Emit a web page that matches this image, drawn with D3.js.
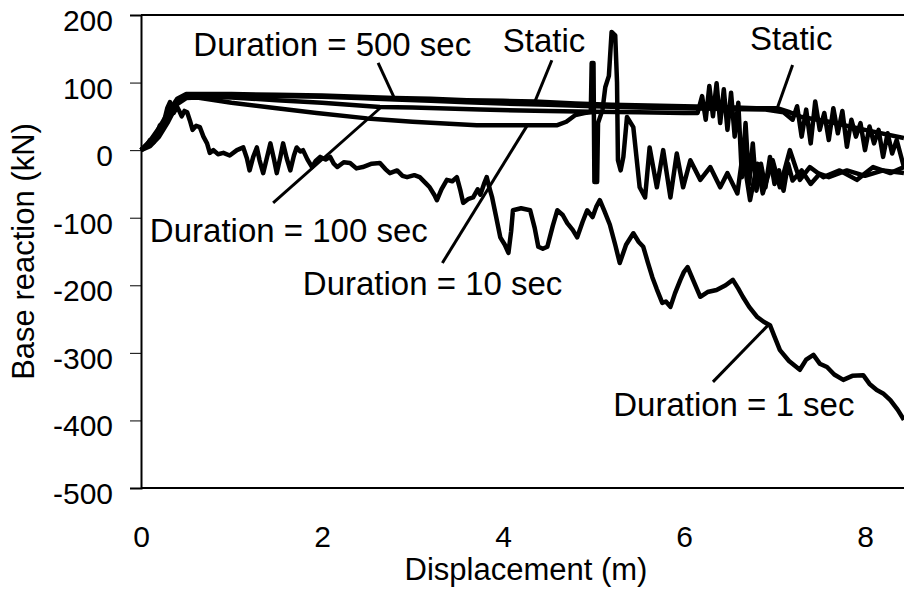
<!DOCTYPE html>
<html>
<head>
<meta charset="utf-8">
<script src="https://cdnjs.cloudflare.com/ajax/libs/d3/7.8.5/d3.min.js"></script>
<style>
body { margin: 0; background: #fff; }
svg text { font-family: "Liberation Sans", Arial, sans-serif; fill: #000; }
</style>
</head>
<body>
<svg id="chart" width="904" height="598"></svg>
<script>
var xTicks = [0, 2, 4, 6, 8];
var yTicks = [-500, -400, -300, -200, -100, 0, 100, 200];

// displacement (m), base reaction (kN)
var staticLoad = [[0,0],[0.1,14],[0.2,33],[0.3,56],[0.4,76],[0.5,83],[1.0,83],[1.5,82],[2.0,81],[2.4,79],[2.8,77],[3.2,76],[3.6,74],[4.0,73],[4.35,72],[4.8,69],[5.2,67],[5.6,66],[6.0,65],[6.4,64],[6.8,62],[7.03,62],[7.15,57],[7.3,49],[7.6,42],[8.0,30],[8.43,18]];

var dur500 = [[0,0],[0.1,12],[0.2,30],[0.3,53],[0.4,74],[0.5,82],[1.0,81],[1.5,80],[2.0,79],[2.4,77],[2.81,75],[3.2,73],[3.6,71],[4.0,69],[4.5,67],[5.0,65],[5.5,63],[6.0,62],[6.5,61],[6.9,60],[7.1,56],[7.2,45],[7.25,65],[7.3,20],[7.35,60],[7.4,10],[7.45,72],[7.5,30],[7.55,55],[7.6,15],[7.65,62],[7.7,25],[7.75,58],[7.8,5],[7.85,45],[7.9,20],[7.95,40],[8.0,0],[8.05,35],[8.1,10],[8.15,30],[8.2,-10],[8.25,25],[8.3,-5],[8.35,15],[8.43,-25]];

var dur100 = [[0,0],[0.1,10],[0.2,28],[0.3,50],[0.4,72],[0.5,80],[1.0,78],[1.5,74],[2.0,70],[2.64,64],[3.0,63],[3.75,60],[4.5,58],[5.0,57],[5.5,56],[6.0,55],[6.15,55],[6.2,80],[6.24,45],[6.28,95],[6.32,50],[6.36,99],[6.4,40],[6.44,90],[6.48,30],[6.52,85],[6.56,20],[6.6,70],[6.64,-40],[6.68,40],[6.72,-50],[6.76,10],[6.8,-60],[6.85,-20],[6.9,-55],[6.95,-10],[7.0,-50],[7.05,-30],[7.1,-60],[7.15,-20],[7.2,-45],[7.3,-30],[7.4,-50],[7.5,-35],[7.6,-40],[7.8,-30],[8.0,-38],[8.2,-30],[8.43,-34]];

var dur10 = [[0,0],[0.1,6],[0.2,20],[0.3,42],[0.4,68],[0.5,77],[0.62,78],[1.0,70],[1.5,62],[1.94,55],[2.5,47],[3.0,42],[3.71,37],[4.27,37],[4.6,37],[4.7,42],[4.8,52],[4.9,55],[4.97,56],[4.98,129],[5.0,129],[5.01,-47],[5.04,-47],[5.05,40],[5.1,60],[5.13,93],[5.17,110],[5.2,175],[5.24,170],[5.26,100],[5.27,-15],[5.3,-30],[5.33,-10],[5.37,49],[5.44,34],[5.51,-55],[5.57,-70],[5.62,4],[5.70,-55],[5.77,0],[5.85,-70],[5.92,-5],[5.99,-55],[6.07,-15],[6.18,-44],[6.29,-25],[6.40,-55],[6.48,-34],[6.59,-64],[6.65,-5],[6.73,-74],[6.81,-20],[6.87,-64],[6.98,-15],[7.06,-55],[7.17,0],[7.28,-44],[7.39,-25],[7.54,-40],[7.72,-30],[7.91,-44],[8.09,-25],[8.28,-34],[8.43,-25]];

var dur1 = [[0,0],[0.05,4],[0.10,15],[0.14,12],[0.21,37],[0.25,40],[0.29,62],[0.32,71],[0.34,60],[0.36,55],[0.40,64],[0.43,56],[0.45,50],[0.48,58],[0.51,56],[0.54,44],[0.57,30],[0.61,36],[0.65,34],[0.69,20],[0.73,10],[0.76,-4],[0.80,0],[0.85,-6],[0.91,-4],[0.98,-8],[1.06,0],[1.13,4],[1.17,-12],[1.20,-30],[1.24,-10],[1.28,4],[1.31,-15],[1.35,-34],[1.39,-12],[1.43,10],[1.47,-14],[1.50,-34],[1.54,-10],[1.57,10],[1.61,-12],[1.65,-30],[1.69,-8],[1.72,4],[1.76,-2],[1.79,0],[1.84,-14],[1.89,-25],[1.93,-16],[1.98,-10],[2.04,-14],[2.09,-10],[2.13,-20],[2.17,-25],[2.24,-18],[2.31,-19],[2.38,-27],[2.45,-25],[2.55,-20],[2.64,-19],[2.70,-28],[2.75,-34],[2.83,-30],[2.89,-38],[2.94,-40],[3.02,-37],[3.08,-40],[3.14,-48],[3.19,-55],[3.24,-66],[3.27,-74],[3.32,-58],[3.38,-44],[3.44,-46],[3.49,-40],[3.53,-60],[3.56,-78],[3.62,-72],[3.67,-70],[3.72,-58],[3.75,-66],[3.79,-50],[3.82,-40],[3.85,-56],[3.88,-70],[3.92,-96],[3.97,-129],[4.02,-140],[4.06,-152],[4.09,-120],[4.11,-89],[4.20,-86],[4.30,-89],[4.35,-115],[4.39,-143],[4.44,-146],[4.49,-143],[4.55,-112],[4.60,-89],[4.66,-96],[4.71,-108],[4.77,-118],[4.82,-129],[4.88,-106],[4.93,-89],[4.99,-99],[5.03,-84],[5.07,-74],[5.12,-90],[5.18,-110],[5.24,-140],[5.29,-167],[5.36,-140],[5.44,-123],[5.50,-136],[5.55,-143],[5.60,-166],[5.65,-188],[5.70,-206],[5.76,-226],[5.80,-224],[5.85,-232],[5.90,-212],[5.96,-192],[6.00,-180],[6.04,-173],[6.10,-192],[6.18,-217],[6.26,-210],[6.36,-207],[6.46,-200],[6.54,-192],[6.60,-205],[6.65,-217],[6.72,-232],[6.81,-247],[6.88,-254],[6.95,-259],[7.00,-276],[7.06,-296],[7.16,-312],[7.28,-325],[7.35,-310],[7.43,-303],[7.50,-316],[7.58,-321],[7.66,-332],[7.76,-340],[7.86,-334],[7.98,-333],[8.05,-346],[8.13,-355],[8.20,-360],[8.28,-370],[8.36,-384],[8.43,-399]];

var seriesList = [staticLoad, dur500, dur100, dur10, dur1];

// label text, label anchor (x, y), leader from (x, y) to (x, y) -- data units
var noteText = ["Duration = 500 sec", "Static", "Static", "Duration = 100 sec", "Duration = 10 sec", "Duration = 1 sec"];
var noteAt = [[0.60,140],[4.02,145],[6.75,148],[0.12,-136],[1.81,-214],[5.24,-393]];
var leaderFrom = [[2.62,129],[4.54,133],[7.20,126],[1.46,-78],[3.33,-167],[6.32,-343]];
var leaderTo = [[2.81,74],[4.35,71],[7.03,62],[2.64,62],[4.27,37],[6.93,-259]];

var svg = d3.select("#chart");
var x = d3.scaleLinear().domain([0, 10]).range([141, 1046]);
var y = d3.scaleLinear().domain([-500, 200]).range([488, 15]);

render();

function render() {
	var line = d3.line().x(function(d){return x(d[0]);}).y(function(d){return y(d[1]);});

	svg.append("g").selectAll("path")
		.data(seriesList)
		.enter().append("path")
		.attr("d", line)
		.attr("fill", "none")
		.attr("stroke", "#000")
		.attr("stroke-width", 4.5)
		.attr("stroke-linejoin", "round");

	// frame
	svg.append("line").attr("x1", x(0)).attr("x2", 904).attr("y1", y(200)).attr("y2", y(200))
		.attr("stroke", "#000").attr("stroke-width", 2);

	var yAxis = svg.append("g")
		.attr("transform", "translate(" + x(0) + ",0)")
		.call(d3.axisLeft(y).tickValues(yTicks).tickSize(11).tickPadding(17).tickFormat(function(d){return String(d);}));
	yAxis.select(".domain").attr("stroke-width", 2);
	yAxis.selectAll(".tick line").attr("stroke-width", 1);
	yAxis.selectAll("text").attr("font-size", 30).attr("dy", 15.5).style("font-family", null);

	var xAxis = svg.append("g")
		.attr("transform", "translate(0," + y(-500) + ")")
		.call(d3.axisBottom(x).tickValues(xTicks).tickSize(0).tickSizeOuter(0));
	xAxis.select(".domain").attr("stroke-width", 2).attr("d", "M" + x(0) + ",0H904");
	xAxis.selectAll("text").attr("font-size", 30).attr("y", 59).attr("dy", 0);

	svg.append("text")
		.attr("x", 526).attr("y", 580)
		.attr("text-anchor", "middle")
		.attr("font-size", 31)
		.text("Displacement (m)");

	svg.append("text")
		.attr("transform", "translate(34," + ((y(200) + y(-500)) / 2) + ") rotate(-90)")
		.attr("text-anchor", "middle")
		.attr("font-size", 31)
		.text("Base reaction (kN)");

	// annotations
	var notes = svg.append("g").selectAll("g")
		.data(noteText)
		.enter().append("g");

	notes.append("line")
		.attr("x1", function(d, i){return x(leaderFrom[i][0]);})
		.attr("y1", function(d, i){return y(leaderFrom[i][1]);})
		.attr("x2", function(d, i){return x(leaderTo[i][0]);})
		.attr("y2", function(d, i){return y(leaderTo[i][1]);})
		.attr("stroke", "#000")
		.attr("stroke-width", 3);

	notes.append("text")
		.attr("x", function(d, i){return x(noteAt[i][0]) - 2;})
		.attr("y", function(d, i){return y(noteAt[i][1]);})
		.attr("font-size", 33)
		.text(function(d){return d;});
}
</script>
</body>
</html>
